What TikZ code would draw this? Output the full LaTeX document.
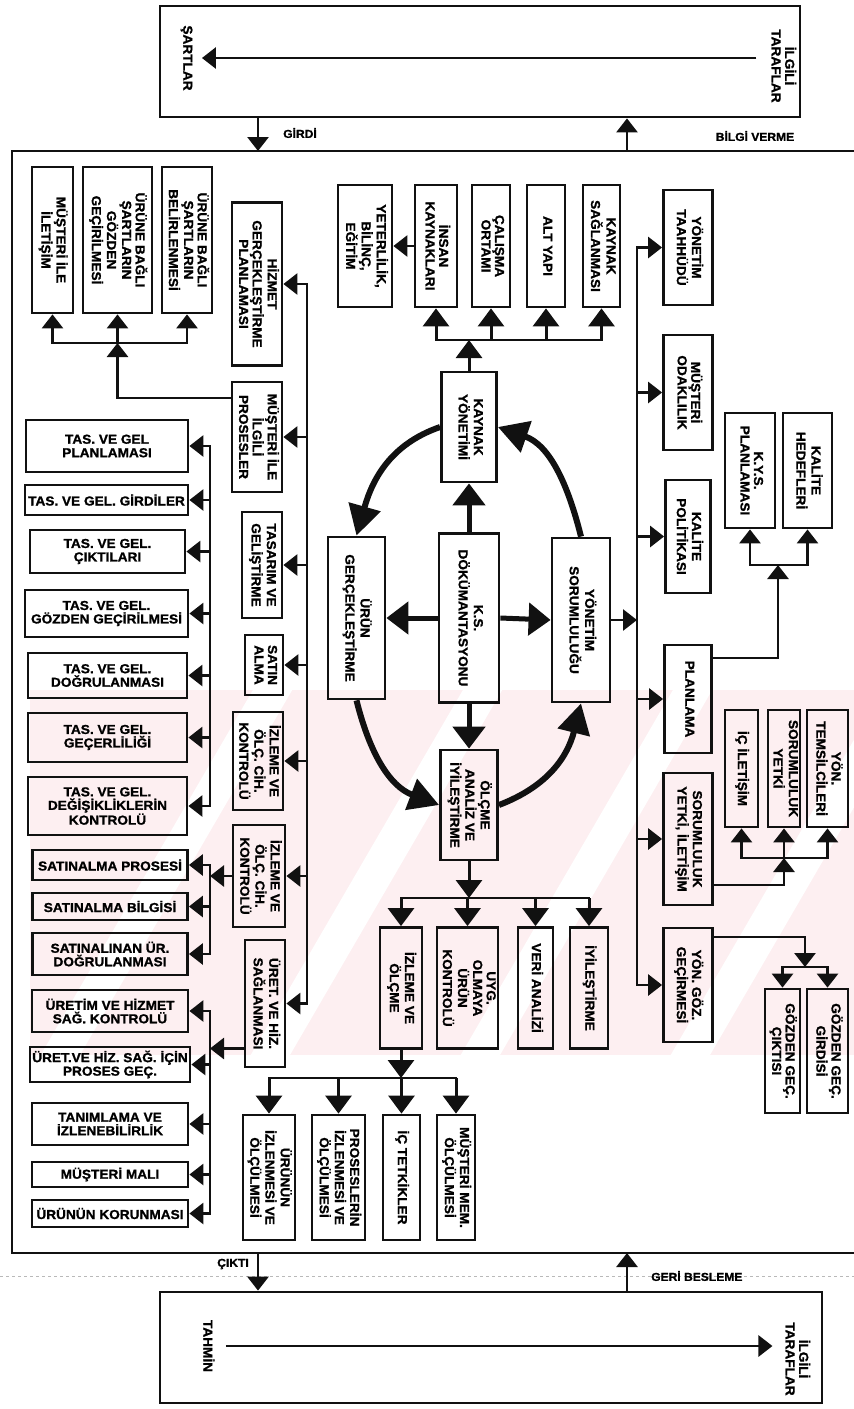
\documentclass[tikz,border=0pt]{standalone}
\usepackage{fontspec}
\setmainfont{Liberation Sans}[BoldFeatures={FakeBold=1.2,FakeStretch=1.05}]
\usepackage{graphicx}
\usepackage{tikz}
\usetikzlibrary{arrows.meta,positioning,calc}
\definecolor{murekkep}{HTML}{111111}
\definecolor{filigran}{RGB}{253,239,241}
\newcommand{\dik}[1]{\rotatebox{-90}{\begin{tabular}{@{}c@{}}#1\end{tabular}}}
\tikzset{
  kutu/.style 2 args={rectangle, draw=murekkep, line width=2.8pt, inner sep=1pt,
               align=center, minimum width=#1pt, minimum height=#2pt,
               font=\bfseries\fontsize{13}{13.5}\selectfont},
  yazi/.style={inner sep=1pt, align=center, font=\bfseries\fontsize{13}{13.5}\selectfont},
  etiket/.style={inner sep=1pt, font=\bfseries\fontsize{11.5}{12}\selectfont},
  hat/.style={line width=2.8pt, draw=murekkep, line cap=rect},
  ok/.style={-{Triangle[length=14pt,width=21pt]}, line width=2.8pt, draw=murekkep},
  okb/.style={-{Triangle[length=18pt,width=26pt]}, line width=3pt, draw=murekkep},
  kalin/.style={-{Triangle[length=22pt,width=32pt]}, line width=5pt, draw=murekkep},
  dongu/.style={-{Triangle[length=30pt,width=32pt]}, line width=6pt, draw=murekkep},
}
\begin{document}
\begin{tikzpicture}[x=1pt,y=-1pt]
\useasboundingbox (0,0) rectangle (854,1409);
\begin{scope}
  \clip (30,690) rectangle (854,1055);
  \fill[filigran] (30,690) rectangle (854,1055);
  \foreach \d in {0,210,420,630}
    \draw[white, line width=34pt] (40+\d,1090) -- (290+\d,660);
\end{scope}

\node[kutu={640}{111}] (ust) at (480,61.5) {};
\node[yazi] (sartlar) at (186,58) {\dik{ŞARTLAR}};
\node[yazi] (ilgiliU) at (782,66) {\dik{İLGİLİ\\TARAFLAR}};
\draw[ok, shorten <=10pt, shorten >=8pt] (ilgiliU.west |- sartlar.east) -- (sartlar.east);
\draw[hat] (854,151) -- (12,151) -- (12,1253) -- (854,1253);
\coordinate (gir) at (258,151);
\coordinate (bil) at (627,151);
\draw[ok] (gir |- ust.south) -- (gir);
\draw[ok] (bil) -- (bil |- ust.south);
\node[etiket] (girdiE) at (300,133) {GİRDİ};
\node[etiket] (bilgiE) at (755,136) {BİLGİ VERME};

\draw[gray!55, dashed, line width=0.7pt] (0,1276) -- (854,1276);
\node[kutu={662}{111}] (alt) at (491,1347.5) {};
\node[yazi] (tatmin) at (207,1346) {\dik{TAHMİN}};
\node[yazi] (ilgiliA) at (796,1359) {\dik{İLGİLİ\\TARAFLAR}};
\draw[ok, shorten <=10pt, shorten >=8pt] (tatmin.east) -- (tatmin.east -| ilgiliA.west);
\coordinate (cik) at (258,1253);
\coordinate (ger) at (627,1253);
\draw[ok] (cik) -- (cik |- alt.north);
\draw[ok] (ger |- alt.north) -- (ger);
\node[etiket, anchor=east] (ciktiE) at (250,1264) {ÇIKTI};
\node[etiket, anchor=west] (geriE) at (650,1276) {GERİ BESLEME};

\node[kutu={60}{169}] (ksd) at (469,618) {\dik{K.S.\\DÖKÜMANTASYONU}};
\node[kutu={55}{110}] (kyon) at (469,427) {\dik{KAYNAK\\YÖNETİMİ}};
\node[kutu={57}{162}] (urun) at (356.5,618) {\dik{ÜRÜN\\GERÇEKLEŞTİRME}};
\node[kutu={58}{164}] (ysor) at (581,620) {\dik{YÖNETİM\\SORUMLULUĞU}};
\node[kutu={57}{110}] (olcme) at (469,805) {\dik{ÖLÇME\\ANALİZ VE\\İYİLEŞTİRME}};
\draw[kalin] (ksd.north) -- (kyon.south);
\draw[kalin] (ksd.south) -- (olcme.north);
\draw[kalin] (ksd.west) -- (urun.east);
\draw[kalin] (ksd.east) -- (ysor.west);
\draw[dongu] (kyon.west) .. controls +(-52,18) and +(15,-53) .. (urun.north);
\draw[dongu] (urun.south) .. controls +(13,52) and +(-50,-19) .. (olcme.west);
\draw[dongu] (olcme.east) .. controls +(50,-19) and +(-13,52) .. (ysor.south);
\draw[dongu] (ysor.north) .. controls +(-13,-52) and +(52,18) .. (kyon.east);

\node[kutu={54}{122}] (yeterlilik) at (365,246) {\dik{YETERLİLİK,\\BİLİNÇ,\\EĞİTİM}};
\node[kutu={42}{122}] (insan) at (436,246) {\dik{İNSAN\\KAYNAKLARI}};
\node[kutu={38}{122}] (calisma) at (491,246) {\dik{ÇALIŞMA\\ORTAMI}};
\node[kutu={38}{122}] (altyapi) at (546,246) {\dik{ALT YAPI}};
\node[kutu={37}{122}] (ksag) at (601.5,246) {\dik{KAYNAK\\SAĞLANMASI}};
\draw[ok] (insan) -- (yeterlilik);
\coordinate (kb) at (469,340);
\draw[okb] (kyon.north) -- (kb);
\draw[hat] (insan.south |- kb) -- (ksag.south |- kb);
\foreach \n in {insan,calisma,altyapi,ksag}
  \draw[okb] (\n.south |- kb) -- (\n.south);

\coordinate (sag) at (637,0);
\node[kutu={49}{115}] (taahhut) at (688,247.5) {\dik{YÖNETİM\\TAAHHÜDÜ}};
\node[kutu={49}{115}] (odak) at (688,392.5) {\dik{MÜŞTERİ\\ODAKLILIK}};
\node[kutu={45}{113}] (politika) at (688,536.5) {\dik{KALİTE\\POLİTİKASI}};
\node[kutu={47}{108}] (planlama) at (688,699) {\dik{PLANLAMA}};
\node[kutu={49}{132}] (syi) at (688,839) {\dik{SORUMLULUK\\YETKİ, İLETİŞİM}};
\node[kutu={49}{114}] (ygg) at (688,985) {\dik{YÖN. GÖZ.\\GEÇİRMESİ}};
\draw[hat] (sag |- taahhut.west) -- (sag |- ygg.west);
\foreach \n in {taahhut,odak,politika,planlama,syi,ygg}
  \draw[ok] (sag |- \n.west) -- (\n.west);
\draw[ok] (ysor.east) -- (ysor.east -| sag);

\node[kutu={50}{115}] (kys) at (750,470.5) {\dik{K.Y.S.\\PLANLAMASI}};
\node[kutu={49}{115}] (hedef) at (807.5,470.5) {\dik{KALİTE\\HEDEFLERİ}};
\coordinate (pb) at (778,565);
\draw[ok] ([yshift=41pt]planlama.east) -| (pb);
\draw[hat] (kys.south |- pb) -- (hedef.south |- pb);
\foreach \n in {kys,hedef}
  \draw[ok] (\n.south |- pb) -- (\n.south);

\node[kutu={33}{117}] (icilet) at (741.5,768.5) {\dik{İÇ İLETİŞİM}};
\node[kutu={32}{117}] (soryet) at (784,768.5) {\dik{SORUMLULUK\\YETKİ}};
\node[kutu={41}{117}] (temsil) at (827.5,768.5) {\dik{YÖN.\\TEMSİLCİLERİ}};
\coordinate (sb) at (784,858);
\draw[ok] ([yshift=-46pt]syi.east) -| (sb);
\draw[hat] (icilet.south |- sb) -- (temsil.south |- sb);
\foreach \n in {icilet,soryet,temsil}
  \draw[ok] (\n.south |- sb) -- (\n.south);

\node[kutu={35}{124}] (gcikti) at (782.5,1051) {\dik{GÖZDEN GEÇ.\\ÇIKTISI}};
\node[kutu={41}{124}] (ggirdi) at (827.5,1051) {\dik{GÖZDEN GEÇ.\\GİRDİSİ}};
\coordinate (gb) at (805,967);
\draw[ok] ([yshift=48pt]ygg.east) -| (gb);
\draw[hat] (gcikti.north |- gb) -- (ggirdi.north |- gb);
\foreach \n in {gcikti,ggirdi}
  \draw[ok] (\n.north |- gb) -- (\n.north);

\coordinate (ob) at (469,898);
\draw[okb] (olcme.south) -- (ob);
\node[kutu={42}{121}] (izolc) at (401,988) {\dik{İZLEME VE\\ÖLÇME}};
\node[kutu={61}{121}] (uygol) at (467.5,988) {\dik{UYG.\\OLMAYA\\ÜRÜN\\KONTROLÜ}};
\node[kutu={35}{121}] (veri) at (535.5,988) {\dik{VERİ ANALİZİ}};
\node[kutu={38}{121}] (iyi) at (589,988) {\dik{İYİLEŞTİRME}};
\draw[hat] (izolc.north |- ob) -- (iyi.north |- ob);
\foreach \n in {izolc,uygol,veri,iyi}
  \draw[okb] (\n.north |- ob) -- (\n.north);

\coordinate (izb) at (401,1078);
\draw[okb] (izolc.south) -- (izb);
\node[kutu={52}{125}] (urunolc) at (269,1177.5) {\dik{ÜRÜNÜN\\İZLENMESİ VE\\ÖLÇÜLMESİ}};
\node[kutu={53}{125}] (prosolc) at (338.5,1177.5) {\dik{PROSESLERİN\\İZLENMESİ VE\\ÖLÇÜLMESİ}};
\node[kutu={37}{125}] (tetkik) at (401.5,1177.5) {\dik{İÇ TETKİKLER}};
\node[kutu={38}{125}] (memnun) at (456,1177.5) {\dik{MÜŞTERİ MEM.\\ÖLÇÜLMESİ}};
\draw[hat] (urunolc.north |- izb) -- (memnun.north |- izb);
\foreach \n in {urunolc,prosolc,tetkik,memnun}
  \draw[okb] (\n.north |- izb) -- (\n.north);

\coordinate (omurga) at (307,0);
\node[kutu={50}{163}] (hizmet) at (257,284) {\dik{HİZMET\\GERÇEKLEŞTİRME\\PLANLAMASI}};
\node[kutu={50}{110}] (musproses) at (257,437) {\dik{MÜŞTERİ İLE\\İLGİLİ\\PROSESLER}};
\node[kutu={40}{106}] (tasarim) at (262,565) {\dik{TASARIM VE\\GELİŞTİRME}};
\node[kutu={38}{60}] (satin) at (264,665) {\dik{SATIN\\ALMA}};
\node[kutu={50}{98}] (izcih1) at (258,761) {\dik{İZLEME VE\\ÖLÇ. CİH.\\KONTROLÜ}};
\node[kutu={52}{102}] (izcih2) at (259,876) {\dik{İZLEME VE\\ÖLÇ. CİH.\\KONTROLÜ}};
\node[kutu={40}{127}] (uretsag) at (265,1003.5) {\dik{ÜRET. VE HİZ.\\SAĞLANMASI}};
\draw[hat] (omurga |- hizmet.east) -- (omurga |- uretsag.east);
\foreach \n in {hizmet,musproses,tasarim,satin,izcih1,izcih2,uretsag}
  \draw[ok] (omurga |- \n.east) -- (\n.east);

\node[kutu={41}{146}] (musilet) at (52.5,240) {\dik{MÜŞTERİ İLE\\İLETİŞİM}};
\node[kutu={69}{146}] (sartgoz) at (117.5,240) {\dik{ÜRÜNE BAĞLI\\ŞARTLARIN\\GÖZDEN\\GEÇİRİLMESİ}};
\node[kutu={50}{146}] (sartbel) at (187,240) {\dik{ÜRÜNE BAĞLI\\ŞARTLARIN\\BELİRLENMESİ}};
\coordinate (ub) at (117.5,343);
\draw[ok] ([yshift=39pt]musproses.west) -| (ub);
\draw[hat] (musilet.south |- ub) -- (sartbel.south |- ub);
\foreach \n in {musilet,sartgoz,sartbel}
  \draw[ok] (\n.south |- ub) -- (\n.south);

\coordinate (solhat) at (210,0);
\node[kutu={162}{52}] (tgplan) at (107,446) {TAS. VE GEL\\PLANLAMASI};
\node[kutu={163}{30}] (tggir) at (106.5,500) {TAS. VE GEL. GİRDİLER};
\node[kutu={155}{43}] (tgcik) at (107.5,551.5) {TAS. VE GEL.\\ÇIKTILARI};
\node[kutu={163}{47}] (tggoz) at (106.5,613.5) {TAS. VE GEL.\\GÖZDEN GEÇİRİLMESİ};
\node[kutu={159}{45}] (tgdog) at (107.5,675.5) {TAS. VE GEL.\\DOĞRULANMASI};
\node[kutu={159}{49}] (tggec) at (107.5,737.5) {TAS. VE GEL.\\GEÇERLİLİĞİ};
\node[kutu={159}{58}] (tgdeg) at (107.5,806) {TAS. VE GEL.\\DEĞİŞİKLİKLERİN\\KONTROLÜ};
\draw[hat] (solhat |- tgplan.east) -- (solhat |- tgdeg.east);
\foreach \n in {tgplan,tggir,tgcik,tggoz,tgdog,tggec,tgdeg}
  \draw[ok] (solhat |- \n.east) -- (\n.east);

\node[kutu={155}{30}] (sapros) at (110,865) {SATINALMA PROSESİ};
\node[kutu={155}{27}] (sabil) at (110,906.5) {SATINALMA BİLGİSİ};
\node[kutu={155}{42}] (sadog) at (110,954) {SATINALINAN ÜR.\\DOĞRULANMASI};
\draw[hat] (solhat |- sapros.east) -- (solhat |- sadog.east);
\foreach \n in {sapros,sabil,sadog}
  \draw[ok] (solhat |- \n.east) -- (\n.east);
\draw[ok] (izcih2.west) -- (izcih2.west -| solhat);

\node[kutu={156}{42}] (uhkont) at (110,1011) {ÜRETİM VE HİZMET\\SAĞ. KONTROLÜ};
\node[kutu={160}{35}] (upgec) at (110,1064.5) {ÜRET.VE HİZ. SAĞ. İÇİN\\PROSES GEÇ.};
\node[kutu={156}{42}] (tanim) at (110,1124) {TANIMLAMA VE\\İZLENEBİLİRLİK};
\node[kutu={156}{25}] (musmal) at (110,1174.5) {MÜŞTERİ MALI};
\node[kutu={156}{27}] (ukor) at (110,1213.5) {ÜRÜNÜN KORUNMASI};
\draw[hat] (solhat |- uhkont.east) -- (solhat |- ukor.east);
\foreach \n in {uhkont,upgec,tanim,musmal,ukor}
  \draw[ok] (solhat |- \n.east) -- (\n.east);
\coordinate (usag) at ([yshift=-45pt]uretsag.west);
\draw[ok] (usag) -- (usag -| solhat);
\end{tikzpicture}
\end{document}
